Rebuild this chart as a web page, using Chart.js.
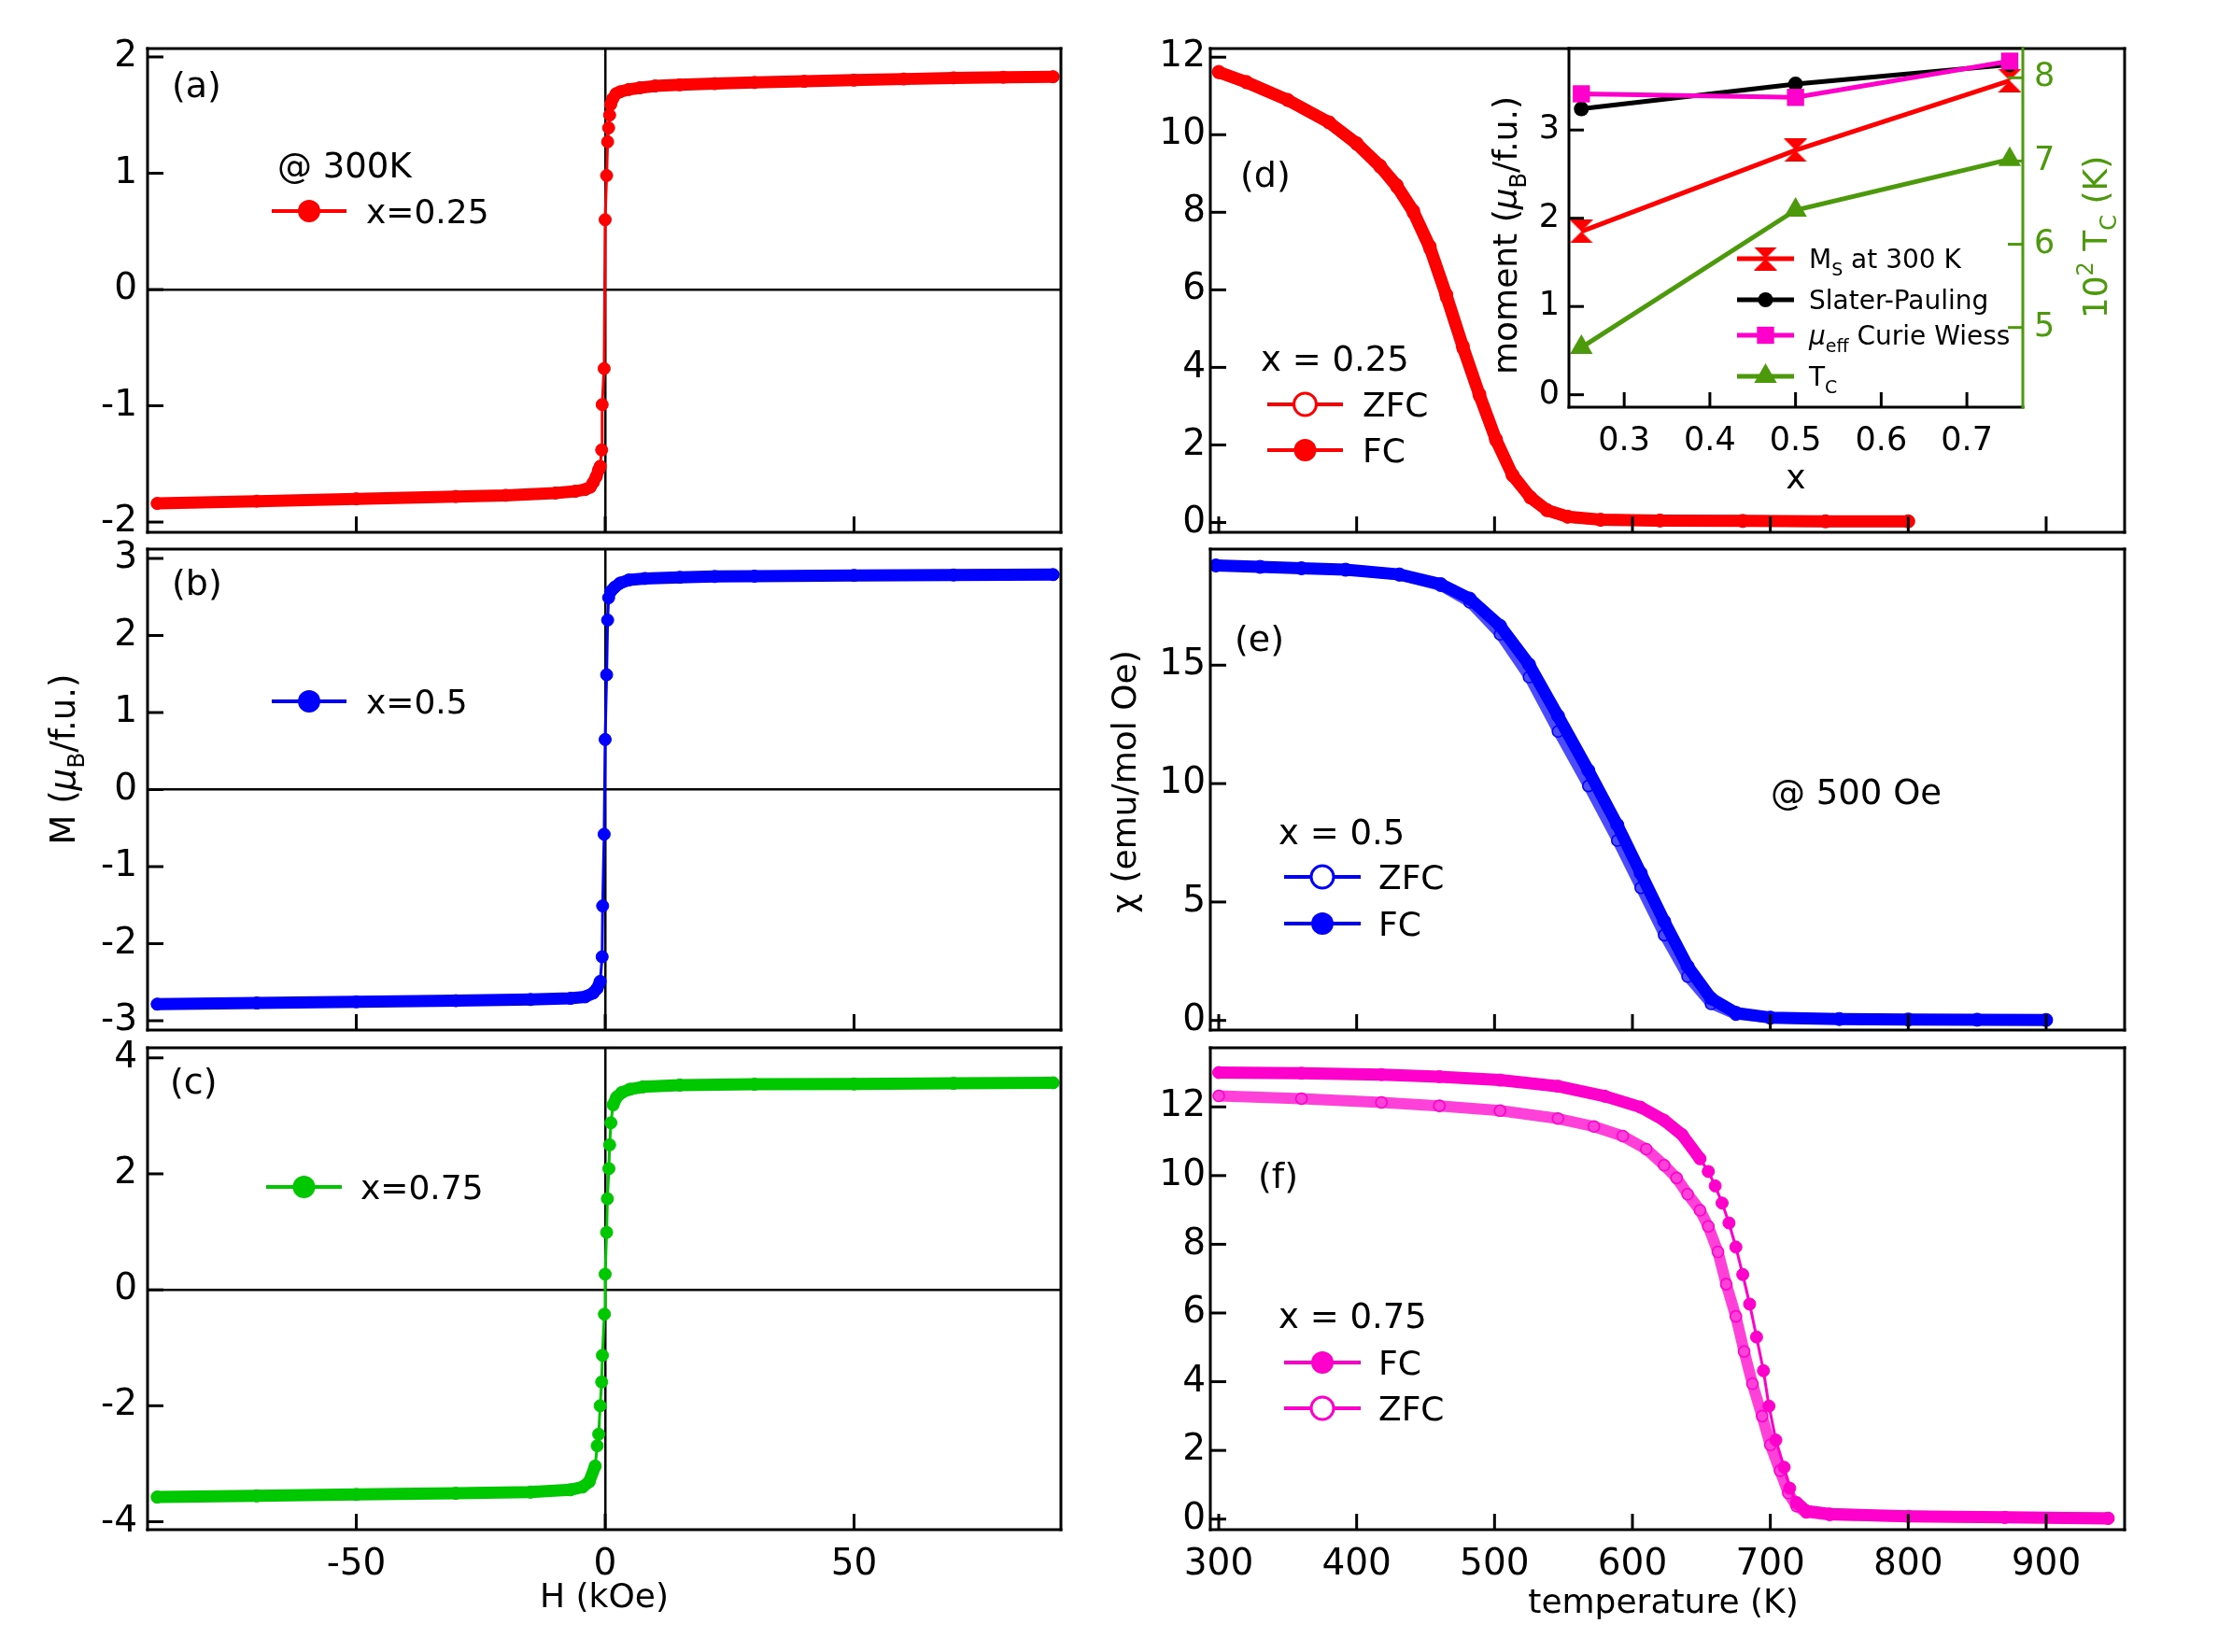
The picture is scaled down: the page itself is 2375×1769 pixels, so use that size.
<!DOCTYPE html>
<html>
<head>
<meta charset="utf-8">
<script src="https://cdn.jsdelivr.net/npm/chart.js@4.4.1/dist/chart.umd.min.js"></script>
<style>
  html, body { margin: 0; padding: 0; background: #fff; }
  #fig { position: relative; width: 2375px; height: 1769px; overflow: hidden; background: #fff; }
  #fig canvas { position: absolute; }
</style>
</head>
<body>
<div id="fig"></div>
<script>
// ---- values ----

// (a)-(c): M (muB/f.u.) against H (kOe) at 300 K
const hA = [-90, -70, -50, -30, -20, -10, -6, -4, -3, -2.4, -1.8, -1.3, -1.0, -0.7, -0.6, -0.2, 0, 0.3, 0.5, 0.7, 0.9, 1.1, 1.5, 2.2, 3, 4.75, 7, 10, 15, 22, 30, 40, 50, 60, 70, 80, 90];
const mA = [-1.84, -1.82, -1.80, -1.78, -1.77, -1.75, -1.735, -1.72, -1.70, -1.66, -1.61, -1.55, -1.52, -1.38, -0.99, -0.68, 0.6, 0.98, 1.27, 1.39, 1.50, 1.59, 1.64, 1.684, 1.70, 1.72, 1.735, 1.75, 1.76, 1.77, 1.78, 1.79, 1.80, 1.81, 1.82, 1.825, 1.83];

const hB = [-90, -70, -50, -30, -15, -7, -4, -2.4, -1.6, -1.0, -0.6, -0.5, -0.2, 0, 0.3, 0.5, 0.7, 1.1, 1.9, 3, 4.75, 8, 15, 22, 30, 50, 70, 90];
const mB = [-2.785, -2.77, -2.755, -2.74, -2.725, -2.71, -2.69, -2.64, -2.58, -2.49, -2.17, -1.51, -0.58, 0.65, 1.49, 2.2, 2.49, 2.57, 2.625, 2.68, 2.72, 2.74, 2.755, 2.765, 2.77, 2.78, 2.785, 2.79];

const hC = [-90, -70, -50, -30, -15, -7, -4.5, -3.2, -2.0, -1.6, -1.3, -1.0, -0.7, -0.55, -0.15, 0, 0.3, 0.45, 0.75, 0.9, 1.15, 1.6, 2.3, 3.3, 5, 7.6, 15, 30, 50, 70, 90];
const mC = [-3.575, -3.555, -3.53, -3.51, -3.49, -3.45, -3.40, -3.31, -3.04, -2.69, -2.49, -2.0, -1.59, -1.13, -0.42, 0.27, 0.99, 1.57, 2.09, 2.50, 2.88, 3.19, 3.32, 3.40, 3.46, 3.50, 3.53, 3.545, 3.55, 3.56, 3.57];

// (d) x = 0.25, chi against temperature (K)
const tD = [300, 320, 350, 380, 400, 417, 429, 441, 453, 465, 477, 489, 501, 513, 526, 538, 553, 577, 620, 680, 740, 800];
const fcD = [11.62, 11.36, 10.90, 10.32, 9.78, 9.20, 8.70, 8.04, 7.12, 5.88, 4.55, 3.31, 2.15, 1.23, 0.65, 0.32, 0.15, 0.07, 0.05, 0.04, 0.03, 0.03];
const zfcD = [11.60, 11.34, 10.88, 10.30, 9.75, 9.16, 8.65, 7.98, 7.05, 5.80, 4.48, 3.25, 2.10, 1.20, 0.63, 0.31, 0.14, 0.07, 0.05, 0.04, 0.03, 0.03];

// (e) x = 0.5
const tE = [298, 330, 360, 392, 431, 461, 482, 504, 525, 546, 568, 589, 606, 623, 640, 657, 675, 700, 750, 800, 850, 900];
const fcE = [19.21, 19.15, 19.09, 19.03, 18.83, 18.42, 17.81, 16.66, 15.03, 12.86, 10.56, 8.26, 6.22, 4.19, 2.29, 0.93, 0.32, 0.12, 0.06, 0.04, 0.03, 0.02];
const zfcE = [19.21, 19.15, 19.09, 19.03, 18.80, 18.35, 17.65, 16.30, 14.50, 12.20, 9.90, 7.60, 5.60, 3.60, 1.85, 0.70, 0.25, 0.10, 0.05, 0.04, 0.03, 0.02];

// (f) x = 0.75
const tFcF = [300, 360, 418, 460, 504, 546, 580, 606, 623, 636, 649, 655, 660, 665, 670, 675, 680, 685, 690, 695, 699, 704, 710, 714, 719, 726, 743, 800, 870, 945];
const fcF = [13.0, 12.98, 12.94, 12.88, 12.78, 12.6, 12.31, 11.99, 11.61, 11.19, 10.49, 10.12, 9.70, 9.20, 8.62, 7.92, 7.12, 6.26, 5.30, 4.32, 3.29, 2.30, 1.51, 0.90, 0.48, 0.24, 0.15, 0.08, 0.05, 0.02];
const tZfcF = [300, 360, 418, 460, 504, 546, 572, 593, 610, 623, 632, 640, 649, 655, 662, 668, 675, 681, 687, 694, 700, 707, 713, 719, 726, 743, 800, 870, 945];
const zfcF = [12.32, 12.24, 12.13, 12.03, 11.89, 11.66, 11.43, 11.15, 10.77, 10.30, 9.93, 9.46, 8.99, 8.52, 7.78, 6.84, 5.90, 4.88, 3.94, 3.00, 2.16, 1.41, 0.76, 0.38, 0.20, 0.12, 0.08, 0.05, 0.03];

// inset: moments and Tc against x
const xInset = [0.25, 0.5, 0.75];
const msAt300 = [1.85, 2.77, 3.56];
const slaterPauling = [3.24, 3.52, 3.74];
const muEffCW = [3.41, 3.37, 3.78];
const tcHundredK = [4.76, 6.41, 7.02];

// tick labels
const hTicks = [-50, 0, 50];
const mTicksA = [-2, -1, 0, 1, 2];
const mTicksB = [-3, -2, -1, 0, 1, 2, 3];
const mTicksC = [-4, -2, 0, 2, 4];
const tempTicks = [300, 400, 500, 600, 700, 800, 900];
const chiTicksD = [0, 2, 4, 6, 8, 10, 12];
const chiTicksE = [0, 5, 10, 15];
const chiTicksF = [0, 2, 4, 6, 8, 10, 12];
const xTicksInset = [0.3, 0.4, 0.5, 0.6, 0.7];
const momentTicks = [0, 1, 2, 3];
const tcTicks = [5, 6, 7, 8];

// ---- drawing ----
const FIG = document.getElementById("fig");
const FAM = "'DejaVu Sans', sans-serif";
const RED = "#ff0000", BLUE = "#0000ff", GREEN = "#00c800", PINK = "#ff00cc", OLIVE = "#4c9a0c";
Chart.defaults.font.family = FAM;
Chart.defaults.color = "#000";

function pts(xs, ys) {
  return xs.map((x, i) => ({ x: x, y: ys[i] }));
}

// thick band where the curve is flat, thin line where it is steep
function slopeWidth(thick, thin, ratio) {
  return (ctx) => {
    const dx = Math.abs(ctx.p1.x - ctx.p0.x);
    const dy = Math.abs(ctx.p1.y - ctx.p0.y);
    return dy > ratio * dx ? thin : thick;
  };
}

function curve(xs, ys, color, o) {
  o = o || {};
  const thick = o.thick || 12, thin = o.thin || 3;
  return {
    data: pts(xs, ys),
    borderColor: o.lineColor || color,
    pointBackgroundColor: o.open ? "rgba(255,255,255,0)" : color,
    pointBorderColor: color,
    pointBorderWidth: o.open ? 1.6 : 1,
    pointRadius: o.r || 6,
    pointHoverRadius: o.r || 6,
    pointStyle: o.style || "circle",
    borderWidth: thin,
    borderJoinStyle: "round",
    borderCapStyle: "round",
    segment: { borderWidth: o.band ? () => thick : slopeWidth(thick, thin, o.ratio || 2) },
    yAxisID: o.yAxisID || "y",
    order: o.order || 0,
    tension: 0,
    fill: false,
  };
}

function axis(pos, min, max, ticks, size, o) {
  o = o || {};
  return {
    type: "linear",
    position: pos,
    min: min,
    max: max,
    afterBuildTicks: (s) => { s.ticks = ticks.map((v) => ({ value: v })); },
    afterFit: (s) => {
      if (pos === "bottom") s.height = size; else s.width = size;
      s.paddingLeft = s.paddingRight = s.paddingTop = s.paddingBottom = 0;
    },
    grid: {
      display: !!o.zero,
      drawTicks: false,
      tickLength: 0,
      lineWidth: 2.5,
      color: (c) => (c.tick && c.tick.value === 0 ? "#000" : "rgba(0,0,0,0)"),
    },
    border: { display: false },
    ticks: {
      display: !!o.labels,
      padding: o.pad || 0,
      color: o.color || "#000",
      font: { family: FAM, size: o.fs || 39 },
      autoSkip: false,
      maxRotation: 0,
      minRotation: 0,
      callback: o.fmt || ((v) => String(v)),
    },
  };
}

// text with sub / superscripts, y is the middle of the capitals
function rich(ctx, parts, x, y, size, align, rot, color) {
  ctx.save();
  ctx.translate(x, y);
  if (rot) ctx.rotate(rot);
  ctx.fillStyle = color || "#000";
  ctx.textBaseline = "alphabetic";
  ctx.textAlign = "left";
  const fontOf = (p) => (p.i ? "italic " : "") + (p.sub || p.sup ? Math.round(size * 0.68) : size) + "px " + FAM;
  let w = 0;
  const ws = parts.map((p) => {
    ctx.font = fontOf(p);
    const m = ctx.measureText(p.t).width;
    w += m;
    return m;
  });
  let cx = align === "center" ? -w / 2 : align === "right" ? -w : 0;
  const base = size * 0.365;
  parts.forEach((p, i) => {
    ctx.font = fontOf(p);
    const dy = p.sub ? size * 0.28 : p.sup ? -size * 0.42 : 0;
    ctx.fillText(p.t, cx, base + dy);
    cx += ws[i];
  });
  ctx.restore();
}

function decorPlugin(spec) {
  return {
    id: "decor",
    beforeDraw(chart) {
      if (!spec.bg) return;
      const a = chart.chartArea, c = chart.ctx;
      c.save();
      c.fillStyle = spec.bg;
      c.fillRect(a.left, a.top, a.right - a.left, a.bottom - a.top);
      c.restore();
    },
    afterDatasetsDraw(chart) {
      const a = chart.chartArea, c = chart.ctx;
      c.save();
      c.lineCap = "butt";
      c.lineWidth = 3;
      (spec.ticks || []).forEach((t) => {
        const s = chart.scales[t.axis];
        c.strokeStyle = t.color || "#000";
        s.ticks.forEach((tk) => {
          const p = s.getPixelForValue(tk.value);
          c.beginPath();
          if (t.side === "bottom") { c.moveTo(p, a.bottom); c.lineTo(p, a.bottom - t.len); }
          if (t.side === "left") { c.moveTo(a.left, p); c.lineTo(a.left + t.len, p); }
          if (t.side === "right") { c.moveTo(a.right, p); c.lineTo(a.right - t.len, p); }
          c.stroke();
        });
      });
      const sides = spec.sides || {};
      c.lineCap = "square";
      const edge = (col, x1, y1, x2, y2) => {
        if (!col) return;
        c.strokeStyle = col;
        c.beginPath();
        c.moveTo(x1, y1);
        c.lineTo(x2, y2);
        c.stroke();
      };
      edge(sides.top, a.left, a.top, a.right, a.top);
      edge(sides.bottom, a.left, a.bottom, a.right, a.bottom);
      edge(sides.left, a.left, a.top, a.left, a.bottom);
      edge(sides.right, a.right, a.top, a.right, a.bottom);
      c.restore();
    },
    afterDraw(chart) {
      const c = chart.ctx, ox = spec.ox, oy = spec.oy;
      (spec.texts || []).forEach((t) =>
        rich(c, t.parts, t.x - ox, t.y - oy, t.size || 37, t.align || "left", t.rot || 0, t.color)
      );
      (spec.keys || []).forEach((k) => {
        const y = k.y - oy;
        c.save();
        c.strokeStyle = k.color;
        c.lineWidth = k.lw || 4;
        c.lineCap = "butt";
        c.beginPath();
        c.moveTo(k.x1 - ox, y);
        c.lineTo(k.x2 - ox, y);
        c.stroke();
        c.fillStyle = k.open ? "#fff" : k.color;
        c.lineWidth = 3;
        Chart.helpers.drawPoint(
          c,
          { pointStyle: k.style || "circle", radius: k.r || 12, borderWidth: k.open ? 3 : 0, rotation: 0 },
          (k.x1 + k.x2) / 2 - ox,
          y
        );
        c.restore();
        rich(c, k.parts, k.tx - ox, y, k.size || 36, "left", 0, "#000");
      });
    },
  };
}

function makePanel(box, m, datasets, scales, spec) {
  const W = box.r - box.l + m.l + m.r;
  const H = box.b - box.t + m.t + m.b;
  const ox = box.l - m.l, oy = box.t - m.t;
  const cv = document.createElement("canvas");
  cv.width = W;
  cv.height = H;
  cv.style.left = ox + "px";
  cv.style.top = oy + "px";
  cv.style.width = W + "px";
  cv.style.height = H + "px";
  FIG.appendChild(cv);
  spec.ox = ox;
  spec.oy = oy;
  return new Chart(cv, {
    type: "line",
    data: { datasets: datasets },
    options: {
      responsive: false,
      animation: false,
      devicePixelRatio: 1,
      events: [],
      layout: { padding: { left: 0, top: m.t, right: scales.y2 ? 0 : m.r, bottom: 0 } },
      plugins: { legend: { display: false }, tooltip: { enabled: false } },
      scales: scales,
    },
    plugins: [decorPlugin(spec)],
  });
}

const frame = { top: "#000", bottom: "#000", left: "#000", right: "#000" };
const mainTicks = [
  { axis: "x", side: "bottom", len: 17 },
  { axis: "y", side: "left", len: 17 },
];
const dot = (color, parts, x1, x2, y, tx, open) => ({ x1, x2, y, tx, color, open, parts, r: 12 });
const muB = [{ t: "M (" }, { t: "μ", i: true }, { t: "B", sub: true }, { t: "/f.u.)" }];

// (a)
makePanel(
  { l: 158, t: 52, r: 1136, b: 570 }, { l: 158, t: 40, r: 30, b: 10 },
  [curve(hA, mA, RED, { ratio: 3, thick: 13, r: 6.5 })],
  {
    x: axis("bottom", -91.93, 91.56, hTicks, 10, { zero: true }),
    y: axis("left", -2.088, 2.072, mTicksA, 158, { zero: true, labels: true, pad: 11 }),
  },
  {
    sides: frame, ticks: mainTicks,
    texts: [
      { x: 184, y: 90, parts: [{ t: "(a)" }], size: 38 },
      { x: 297, y: 176, parts: [{ t: "@ 300K" }] },
    ],
    keys: [dot(RED, [{ t: "x=0.25" }], 291, 371, 226, 392)],
  }
);

// (b)
makePanel(
  { l: 158, t: 588, r: 1136, b: 1103 }, { l: 158, t: 30, r: 30, b: 10 },
  [curve(hB, mB, BLUE, { ratio: 3, thick: 13, r: 6.5 })],
  {
    x: axis("bottom", -91.93, 91.56, hTicks, 10, { zero: true }),
    y: axis("left", -3.121, 3.121, mTicksB, 158, { zero: true, labels: true, pad: 11 }),
  },
  {
    sides: frame, ticks: mainTicks,
    texts: [
      { x: 184, y: 623, parts: [{ t: "(b)" }], size: 38 },
      { x: 66, y: 813, parts: muB, size: 37, align: "center", rot: -Math.PI / 2 },
    ],
    keys: [dot(BLUE, [{ t: "x=0.5" }], 291, 371, 751, 392)],
  }
);

// (c)
makePanel(
  { l: 158, t: 1122, r: 1136, b: 1638 }, { l: 158, t: 30, r: 30, b: 110 },
  [curve(hC, mC, GREEN, { ratio: 3, thick: 13, r: 6.5 })],
  {
    x: axis("bottom", -91.93, 91.56, hTicks, 110, { zero: true, labels: true, pad: 14 }),
    y: axis("left", -4.137, 4.174, mTicksC, 158, { zero: true, labels: true, pad: 11 }),
  },
  {
    sides: frame, ticks: mainTicks,
    texts: [
      { x: 182, y: 1157, parts: [{ t: "(c)" }], size: 38 },
      { x: 647, y: 1708, parts: [{ t: "H (kOe)" }], size: 36, align: "center" },
    ],
    keys: [dot(GREEN, [{ t: "x=0.75" }], 285, 366, 1271, 386)],
  }
);

// (d)
makePanel(
  { l: 1296, t: 52, r: 2275, b: 570 }, { l: 126, t: 40, r: 30, b: 10 },
  [
    curve(tD, fcD, RED, { band: true, thick: 13, r: 7, order: 0 }),
    curve(tD, zfcD, RED, { band: true, thick: 12, open: true, order: 1 }),
  ],
  {
    x: axis("bottom", 293.9, 956.9, tempTicks, 10),
    y: axis("left", -0.253, 12.222, chiTicksD, 126, { labels: true, pad: 5 }),
  },
  {
    sides: frame, ticks: mainTicks,
    texts: [
      { x: 1328, y: 186, parts: [{ t: "(d)" }], size: 38 },
      { x: 1350, y: 383, parts: [{ t: "x = 0.25" }] },
    ],
    keys: [
      dot(RED, [{ t: "ZFC" }], 1357, 1438, 433, 1459, true),
      dot(RED, [{ t: "FC" }], 1357, 1438, 482, 1459),
    ],
  }
);

// (e)
makePanel(
  { l: 1296, t: 588, r: 2275, b: 1103 }, { l: 126, t: 30, r: 30, b: 10 },
  [
    curve(tE, fcE, BLUE, { band: true, thick: 13, r: 7, order: 0 }),
    curve(tE, zfcE, BLUE, { band: true, thick: 11, open: true, lineColor: "rgba(0,0,255,0.7)", order: 1 }),
  ],
  {
    x: axis("bottom", 293.9, 956.9, tempTicks, 10),
    y: axis("left", -0.406, 19.9, chiTicksE, 126, { labels: true, pad: 5 }),
  },
  {
    sides: frame, ticks: mainTicks,
    texts: [
      { x: 1322, y: 683, parts: [{ t: "(e)" }], size: 38 },
      { x: 1896, y: 847, parts: [{ t: "@ 500 Oe" }] },
      { x: 1369, y: 890, parts: [{ t: "x = 0.5" }] },
      { x: 1203, y: 837, parts: [{ t: "χ (emu/mol Oe)" }], size: 36, align: "center", rot: -Math.PI / 2 },
    ],
    keys: [
      dot(BLUE, [{ t: "ZFC" }], 1375, 1457, 939, 1476, true),
      dot(BLUE, [{ t: "FC" }], 1375, 1457, 989, 1476),
    ],
  }
);

// (f)
makePanel(
  { l: 1296, t: 1122, r: 2275, b: 1638 }, { l: 126, t: 30, r: 30, b: 110 },
  [
    curve(tFcF, fcF, PINK, { thick: 13, ratio: 1.5, r: 6.5, order: 0 }),
    curve(tZfcF, zfcF, PINK, { band: true, thick: 12, open: true, lineColor: "rgba(255,0,204,0.75)", order: 1 }),
  ],
  {
    x: axis("bottom", 293.9, 956.9, tempTicks, 110, { labels: true, pad: 14 }),
    y: axis("left", -0.307, 13.72, chiTicksF, 126, { labels: true, pad: 5 }),
  },
  {
    sides: frame, ticks: mainTicks,
    texts: [
      { x: 1347, y: 1258, parts: [{ t: "(f)" }], size: 38 },
      { x: 1369, y: 1408, parts: [{ t: "x = 0.75" }] },
      { x: 1781, y: 1714, parts: [{ t: "temperature (K)" }], size: 36, align: "center" },
    ],
    keys: [
      dot(PINK, [{ t: "FC" }], 1375, 1457, 1459, 1476),
      dot(PINK, [{ t: "ZFC" }], 1375, 1457, 1508, 1476, true),
    ],
  }
);

// inset of (d)
function hourglass(color, s) {
  const c = document.createElement("canvas");
  c.width = s;
  c.height = s;
  const g = c.getContext("2d");
  g.fillStyle = color;
  g.beginPath();
  g.moveTo(0, 0);
  g.lineTo(s, 0);
  g.lineTo(0, s);
  g.lineTo(s, s);
  g.closePath();
  g.fill();
  return c;
}
const hgRed = hourglass(RED, 25);

function insetSet(ys, color, style, r, order, yAxisID) {
  return {
    data: pts(xInset, ys),
    borderColor: color,
    backgroundColor: color,
    pointBackgroundColor: color,
    pointBorderColor: color,
    pointBorderWidth: 0,
    borderWidth: 5,
    pointStyle: style,
    pointRadius: r,
    pointHoverRadius: r,
    yAxisID: yAxisID || "y",
    order: order,
    tension: 0,
    fill: false,
  };
}

makePanel(
  { l: 1680, t: 52, r: 2166, b: 436 }, { l: 100, t: 30, r: 110, b: 100 },
  [
    insetSet(muEffCW, PINK, "rect", 13, 0),
    insetSet(slaterPauling, "#000", "circle", 8, 1),
    insetSet(msAt300, RED, hgRed, 12, 2),
    insetSet(tcHundredK, OLIVE, "triangle", 14, 3, "y2"),
  ],
  {
    x: axis("bottom", 0.2355, 0.7653, xTicksInset, 100, { labels: true, pad: 16, fs: 35, fmt: (v) => v.toFixed(1) }),
    y: axis("left", -0.141, 3.923, momentTicks, 100, { labels: true, pad: 10, fs: 35 }),
    y2: axis("right", 4.043, 8.351, tcTicks, 110, { labels: true, pad: 12, fs: 35, color: OLIVE }),
  },
  {
    bg: "#fff",
    sides: { top: "#000", bottom: "#000", left: "#000", right: OLIVE },
    ticks: [
      { axis: "x", side: "bottom", len: 16 },
      { axis: "y", side: "left", len: 16 },
      { axis: "y2", side: "right", len: 16, color: OLIVE },
    ],
    texts: [
      { x: 1611, y: 252, parts: [{ t: "moment (" }, { t: "μ", i: true }, { t: "B", sub: true }, { t: "/f.u.)" }], size: 36, align: "center", rot: -Math.PI / 2 },
      { x: 2243, y: 254, parts: [{ t: "10" }, { t: "2", sup: true }, { t: " T" }, { t: "C", sub: true }, { t: " (K)" }], size: 36, align: "center", rot: -Math.PI / 2, color: OLIVE },
      { x: 1923, y: 510, parts: [{ t: "x" }], size: 36, align: "center" },
    ],
    keys: [
      { x1: 1860, x2: 1921, y: 277, tx: 1937, color: RED, style: hgRed, r: 12, lw: 5, size: 28, parts: [{ t: "M" }, { t: "S", sub: true }, { t: " at 300 K" }] },
      { x1: 1860, x2: 1921, y: 321, tx: 1937, color: "#000", style: "circle", r: 8, lw: 5, size: 28, parts: [{ t: "Slater-Pauling" }] },
      { x1: 1860, x2: 1921, y: 359, tx: 1937, color: PINK, style: "rect", r: 13, lw: 5, size: 28, parts: [{ t: "μ", i: true }, { t: "eff", sub: true }, { t: " Curie Wiess" }] },
      { x1: 1860, x2: 1921, y: 403, tx: 1937, color: OLIVE, style: "triangle", r: 14, lw: 5, size: 28, parts: [{ t: "T" }, { t: "C", sub: true }] },
    ],
  }
);
</script>
</body>
</html>
